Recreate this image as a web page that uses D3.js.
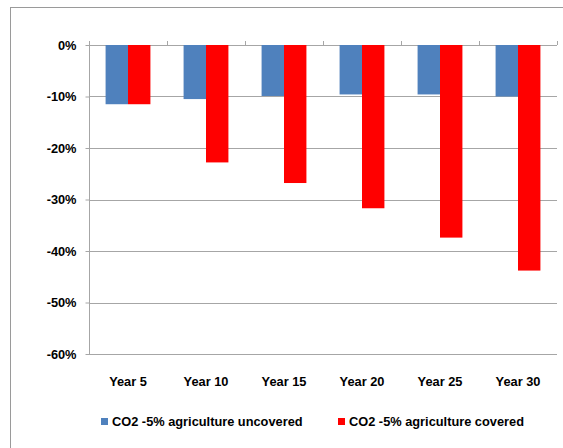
<!DOCTYPE html>
<html>
<head>
<meta charset="utf-8">
<script src="https://cdn.jsdelivr.net/npm/d3@7"></script>
<style>
  html, body { margin: 0; padding: 0; background: #fff; }
  svg { display: block; font-family: "Liberation Sans", Arial, sans-serif; }
</style>
</head>
<body>
<svg id="chart" width="563" height="448"></svg>
<script>
// Change in CO2 emissions relative to baseline (%)
const categories = ["Year 5", "Year 10", "Year 15", "Year 20", "Year 25", "Year 30"];
const seriesNames = ["CO2 -5% agriculture uncovered", "CO2 -5% agriculture covered"];
const uncovered = [-11.5, -10.5, -9.9, -9.6, -9.6, -10.0];
const covered = [-11.5, -22.8, -26.8, -31.7, -37.4, -43.8];
const yTicks = [0, -10, -20, -30, -40, -50, -60];
const colors = ["#4F81BD", "#FF0000"];

const svg = d3.select("#chart");
const plot = { left: 89, right: 557, top: 45, bottom: 354 };
const fontSize = 12.8;

// Outer chart frame
svg.append("rect")
  .attr("x", 10.5).attr("y", 7.5)
  .attr("width", 600).attr("height", 500)
  .attr("fill", "none").attr("stroke", "#9a9a9a").attr("stroke-width", 1);

const x = d3.scaleBand().domain(categories).range([plot.left, plot.right]).paddingInner(0).paddingOuter(0);
const y = d3.scaleLinear().domain([-60, 0]).range([plot.bottom, plot.top]);

// Horizontal gridlines
svg.append("g").selectAll("line").data(yTicks).join("line")
  .attr("x1", plot.left).attr("x2", plot.right)
  .attr("y1", d => Math.round(y(d)) + 0.5).attr("y2", d => Math.round(y(d)) + 0.5)
  .attr("stroke", "#a6a6a6").attr("stroke-width", 1);

// Value axis line
svg.append("line")
  .attr("x1", plot.left + 0.5).attr("x2", plot.left + 0.5)
  .attr("y1", plot.top).attr("y2", plot.bottom + 0.5)
  .attr("stroke", "#a6a6a6");

// Y axis labels
const yAxis = d3.axisLeft(y).tickValues(yTicks).tickSize(4).tickPadding(9)
  .tickFormat(d => d + "%");
const gy = svg.append("g").attr("transform", `translate(${plot.left + 0.5},0)`).call(yAxis);
gy.select(".domain").remove();
gy.selectAll(".tick line").attr("stroke", "#a6a6a6");
gy.selectAll(".tick text")
  .attr("font-family", "'Liberation Sans', Arial, sans-serif")
  .attr("font-size", fontSize).attr("font-weight", "bold").attr("fill", "#000");

// Category tick marks along the zero line
const boundaries = categories.map(c => x(c) + x.bandwidth()).concat([x(categories[0])]);
svg.append("g").selectAll("line").data(boundaries).join("line")
  .attr("x1", d => Math.round(d) + 0.5).attr("x2", d => Math.round(d) + 0.5)
  .attr("y1", y(0) - 4).attr("y2", y(0))
  .attr("stroke", "#a6a6a6");

// Bars: two series side by side in each category
const x1 = d3.scaleBand().domain([0, 1]).range([0, x.bandwidth()]).paddingOuter(0.74).paddingInner(0);
const data = categories.map((c, i) => ({ cat: c, vals: [uncovered[i], covered[i]] }));
const groups = svg.append("g").selectAll("g").data(data).join("g")
  .attr("transform", d => `translate(${x(d.cat)},0)`);
groups.selectAll("rect").data(d => d.vals.map((v, s) => ({ v, s }))).join("rect")
  .attr("x", d => x1(d.s))
  .attr("width", x1.bandwidth())
  .attr("y", y(0))
  .attr("height", d => y(d.v) - y(0))
  .attr("fill", d => colors[d.s]);

// Category labels
svg.append("g").selectAll("text").data(categories).join("text")
  .attr("x", d => x(d) + x.bandwidth() / 2)
  .attr("y", 386)
  .attr("text-anchor", "middle")
  .attr("font-size", fontSize).attr("font-weight", "bold").attr("fill", "#000")
  .text(d => d);

// Legend
const legendX = [101, 338];
const legend = svg.append("g").selectAll("g").data(seriesNames).join("g")
  .attr("transform", (d, i) => `translate(${legendX[i]},418)`);
legend.append("rect").attr("width", 7).attr("height", 7).attr("fill", (d, i) => colors[i]);
legend.append("text").attr("x", 11).attr("y", 8)
  .attr("font-size", fontSize).attr("font-weight", "bold").attr("fill", "#000")
  .text(d => d);
</script>
</body>
</html>
